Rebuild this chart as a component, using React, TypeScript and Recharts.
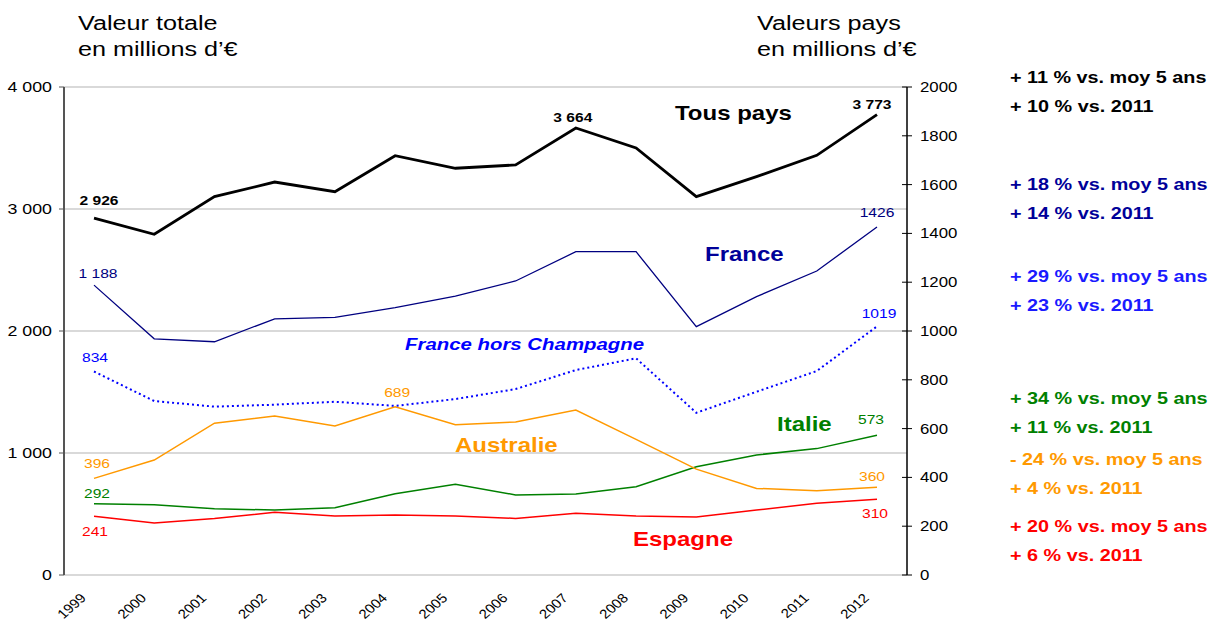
import React from 'react';
import { LineChart, Line, XAxis, YAxis, CartesianGrid } from 'recharts';

// ---------- data ----------
const years = ['1999', '2000', '2001', '2002', '2003', '2004', '2005', '2006', '2007', '2008', '2009', '2010', '2011', '2012'];
const tousPays = [2926, 2793, 3101, 3221, 3142, 3437, 3334, 3361, 3664, 3500, 3101, 3265, 3440, 3773];
const france = [1188, 968, 956, 1050, 1056, 1096, 1143, 1205, 1325, 1325, 1018, 1141, 1246, 1426];
const franceHorsChampagne = [834, 713, 690, 698, 710, 693, 721, 762, 840, 888, 665, 751, 836, 1019];
const australie = [396, 471, 622, 652, 611, 689, 616, 627, 676, 556, 434, 355, 345, 360];
const italie = [292, 288, 272, 266, 276, 333, 372, 328, 332, 362, 444, 492, 518, 573];
const espagne = [241, 213, 232, 257, 242, 246, 242, 232, 253, 242, 238, 266, 294, 310];

const leftTicks = [0, 1000, 2000, 3000, 4000];
const rightTicks = [0, 200, 400, 600, 800, 1000, 1200, 1400, 1600, 1800, 2000];
const boundaryTicks = [...years.map((_, i) => i), years.length];

// data labels (index -> text)
const tousLabels = [{ i: 0, v: 2926, text: '2 926' }, { i: 8, v: 3664, text: '3 664' }, { i: 13, v: 3773, text: '3 773' }];
const franceLabels = [{ i: 0, v: 1188, text: '1 188' }, { i: 13, v: 1426, text: '1426' }];
const fhcLabels = [{ i: 0, v: 834, text: '834' }, { i: 13, v: 1019, text: '1019' }];
const ausLabels = [{ i: 0, v: 396, text: '396' }, { i: 5, v: 689, text: '689' }, { i: 13, v: 360, text: '360' }];
const itaLabels = [{ i: 0, v: 292, text: '292' }, { i: 13, v: 573, text: '573' }];
const espLabels = [{ i: 0, v: 241, text: '241' }, { i: 13, v: 310, text: '310' }];

const annotations = [
  { text: '+ 11 % vs. moy 5 ans', color: '#000000' },
  { text: '+ 10 % vs. 2011', color: '#000000' },
  { text: '+ 18 % vs. moy 5 ans', color: '#000099' },
  { text: '+ 14 % vs. 2011', color: '#000099' },
  { text: '+ 29 % vs. moy 5 ans', color: '#1a1aff' },
  { text: '+ 23 % vs. 2011', color: '#1a1aff' },
  { text: '+ 34 % vs. moy 5 ans', color: '#008000' },
  { text: '+ 11 % vs. 2011', color: '#008000' },
  { text: '- 24 % vs. moy 5 ans', color: '#ff9900' },
  { text: '+ 4 % vs. 2011', color: '#ff9900' },
  { text: '+ 20 % vs. moy 5 ans', color: '#ff0000' },
  { text: '+ 6 % vs. 2011', color: '#ff0000' },
];

const data = years.map((year, i) => ({
  year,
  tous: tousPays[i],
  france: france[i],
  fhc: franceHorsChampagne[i],
  aus: australie[i],
  ita: italie[i],
  esp: espagne[i],
}));

// ---------- styling ----------
const FONT = '"Liberation Sans", Arial, sans-serif';
const SX = 1.2; // horizontal stretch of the original rendering

const annotationBaselines = [83, 111.5, 190, 218.5, 281.5, 310.5, 404, 432.5, 465, 494, 531.5, 560.5];

const labelOffsets: Record<string, number[][]> = {
  tous: [[5, -13], [-3, -6], [-5, -6]],
  france: [[4, -7], [0, -10]],
  fhc: [[1, -10], [2, -8]],
  aus: [[3, -10], [2, -10], [-5, -6]],
  ita: [[3, -6], [-6, -11]],
  esp: [[1, 20], [-2, 19]],
};

const fmtThousands = (v: number) => String(v).replace(/\B(?=(\d{3})+(?!\d))/g, ' ');

const makeLabel = (labels: any[], offsets: number[][], color: string, bold: boolean) => (props: any) => {
  let k = -1;
  if (typeof props.index === 'number') k = labels.findIndex((l) => l.i === props.index);
  if (k < 0 && props.value != null) k = labels.findIndex((l) => l.v === Number(props.value));
  const key = `lbl-${props.index}-${props.x}`;
  if (k < 0 || props.x == null || props.y == null) return <g key={key} />;
  const [dx, dy] = offsets[k];
  return (
    <text
      key={key}
      transform={`translate(${props.x + dx},${props.y + dy}) scale(${SX},1)`}
      textAnchor="middle"
      fill={color}
      fontSize={13}
      fontWeight={bold ? 'bold' : 'normal'}
      fontFamily={FONT}
    >
      {labels[k].text}
    </text>
  );
};

const LeftTick = (props: any) => {
  const { x, y, payload } = props;
  return (
    <text transform={`translate(${x},${y}) scale(1.27,1)`} textAnchor="end" dy="0.35em" fontSize={14} fontFamily={FONT} fill="#000">
      {fmtThousands(payload.value)}
    </text>
  );
};

const RightTick = (props: any) => {
  const { x, y, payload } = props;
  return (
    <g>
      <line x1={x - 18} x2={x - 13} y1={y} y2={y} stroke="#000" strokeWidth={1} />
      <text transform={`translate(${x},${y}) scale(${SX},1)`} textAnchor="start" dy="0.35em" fontSize={14} fontFamily={FONT} fill="#000">
        {payload.value}
      </text>
    </g>
  );
};

const XTick = (props: any) => {
  const { x, y, payload } = props;
  return (
    <g transform={`translate(${x - 7},${y + 24})`}>
      <text transform={`scale(1.15,1) rotate(-45)`} x={0} y={0} textAnchor="end" fontSize={13} fontFamily={FONT} fill="#000">
        {payload.value}
      </text>
    </g>
  );
};

const T = ({ x, y, size, color, bold, italic, anchor, children }: any) => (
  <text
    transform={`translate(${x},${y}) scale(${SX},1)`}
    fontSize={size}
    fill={color}
    fontWeight={bold ? 'bold' : 'normal'}
    fontStyle={italic ? 'italic' : 'normal'}
    textAnchor={anchor || 'start'}
    fontFamily={FONT}
  >
    {children}
  </text>
);

export default function App() {
  return (
    <div style={{ position: 'absolute', left: 0, top: 0, width: 1213, height: 626, background: '#fff', fontFamily: FONT }}>
      <LineChart width={1213} height={626} data={data} margin={{ top: 87, right: 246, bottom: 0, left: 0 }}>
        <CartesianGrid xAxisId="cat" yAxisId="left" vertical={false} horizontal stroke="#cccccc" strokeWidth={1.5} />
        <XAxis
          xAxisId="bounds"
          type="number"
          domain={[0, years.length]}
          ticks={boundaryTicks}
          allowDataOverflow
          height={0}
          axisLine={{ stroke: '#000', strokeWidth: 1.5 }}
          tickLine={{ stroke: '#000', strokeWidth: 1 }}
          tickSize={5}
          tickFormatter={() => ''}
        />
        <XAxis
          xAxisId="cat"
          dataKey="year"
          padding={{ left: 30, right: 30 }}
          height={51}
          axisLine={false}
          tickLine={false}
          tickSize={0}
          tickMargin={0}
          interval={0}
          tick={<XTick />}
        />
        <YAxis
          yAxisId="left"
          orientation="left"
          domain={[0, 4000]}
          ticks={leftTicks}
          width={64}
          axisLine={{ stroke: '#555', strokeWidth: 2 }}
          tickLine={{ stroke: '#555', strokeWidth: 1 }}
          tickSize={5}
          tickMargin={7}
          interval={0}
          tick={<LeftTick />}
        />
        <YAxis
          yAxisId="right"
          orientation="right"
          domain={[0, 2000]}
          ticks={rightTicks}
          width={60}
          axisLine={{ stroke: '#000', strokeWidth: 1.5 }}
          tickLine={{ stroke: '#000', strokeWidth: 1 }}
          tickSize={5}
          tickMargin={8}
          interval={0}
          tick={<RightTick />}
        />
        <Line xAxisId="cat" yAxisId="right" dataKey="esp" stroke="#ff0000" strokeWidth={1.5} dot={false} activeDot={false} isAnimationActive={false} label={makeLabel(espLabels, labelOffsets.esp, '#ff0000', false)} />
        <Line xAxisId="cat" yAxisId="right" dataKey="ita" stroke="#008000" strokeWidth={1.5} dot={false} activeDot={false} isAnimationActive={false} label={makeLabel(itaLabels, labelOffsets.ita, '#008000', false)} />
        <Line xAxisId="cat" yAxisId="right" dataKey="aus" stroke="#ff9900" strokeWidth={1.5} dot={false} activeDot={false} isAnimationActive={false} label={makeLabel(ausLabels, labelOffsets.aus, '#ff9900', false)} />
        <Line xAxisId="cat" yAxisId="right" dataKey="fhc" stroke="#0000ff" strokeWidth={2} strokeDasharray="2 3" dot={false} activeDot={false} isAnimationActive={false} label={makeLabel(fhcLabels, labelOffsets.fhc, '#0000ff', false)} />
        <Line xAxisId="cat" yAxisId="right" dataKey="france" stroke="#000080" strokeWidth={1.3} dot={false} activeDot={false} isAnimationActive={false} label={makeLabel(franceLabels, labelOffsets.france, '#000080', false)} />
        <Line xAxisId="cat" yAxisId="left" dataKey="tous" stroke="#000000" strokeWidth={2.8} dot={false} activeDot={false} isAnimationActive={false} label={makeLabel(tousLabels, labelOffsets.tous, '#000000', true)} />
      </LineChart>
      <svg width={1213} height={626} style={{ position: 'absolute', left: 0, top: 0, pointerEvents: 'none' }}>
        <T x={78} y={30} size={21} color="#000">Valeur totale</T>
        <T x={78} y={56} size={21} color="#000">en millions d’€</T>
        <T x={757} y={30} size={21} color="#000">Valeurs pays</T>
        <T x={757} y={56} size={21} color="#000">en millions d’€</T>

        <T x={675} y={120} size={20} color="#000" bold>Tous pays</T>
        <T x={705} y={261} size={20} color="#000099" bold>France</T>
        <T x={405} y={350} size={17} color="#0000ff" bold italic>France hors Champagne</T>
        <T x={455} y={452} size={20} color="#ff9900" bold>Australie</T>
        <T x={777} y={431} size={20} color="#008000" bold>Italie</T>
        <T x={633} y={546} size={20} color="#ff0000" bold>Espagne</T>

        {annotations.map((a, i) => (
          <T key={i} x={1010} y={annotationBaselines[i]} size={16.5} color={a.color} bold>
            {a.text}
          </T>
        ))}
      </svg>
    </div>
  );
}
